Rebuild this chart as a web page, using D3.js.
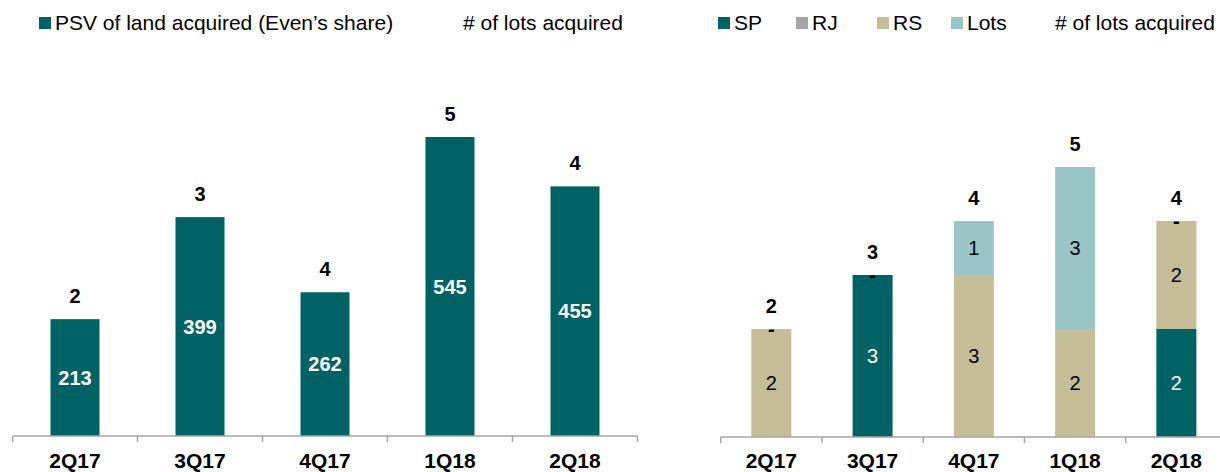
<!DOCTYPE html>
<html>
<head>
<meta charset="utf-8">
<script src="https://cdn.jsdelivr.net/npm/d3@7"></script>
<style>
  body { margin: 0; background: #fff; }
  svg { display: block; font-family: "Liberation Sans", Arial, sans-serif; }
</style>
</head>
<body>
<svg width="1220" height="472"></svg>
<script>
// data
const quarters = ["2Q17", "3Q17", "4Q17", "1Q18", "2Q18"];
const psv = [213, 399, 262, 545, 455];
const lotsAcquired = [2, 3, 4, 5, 4];
const sp = [0, 3, 0, 0, 2];
const rj = [0, 0, 0, 0, 0];
const rs = [2, 0, 3, 2, 2];
const lots = [0, 0, 1, 3, 0];

const teal = "#006264", grey = "#a6a6a6", sand = "#c4bd97", light = "#99c5c6";
const axisColor = "#a6a6a6";

let svg = d3.select("svg");

// ---------- left chart ----------
let xL = d3.scaleBand().domain(quarters).range([12.5, 637.5]);
let yL = d3.scaleLinear().domain([0, 600]).range([436, 436 - 600 * 0.5486]);
let bwL = 49;

let left = svg.append("g");

left.selectAll("rect")
	.data(quarters)
	.enter().append("rect")
	.attr("x", d => xL(d) + xL.bandwidth() / 2 - bwL / 2)
	.attr("width", bwL)
	.attr("y", (d, i) => yL(psv[i]))
	.attr("height", (d, i) => yL(0) - yL(psv[i]))
	.attr("fill", teal);

left.selectAll("text.val")
	.data(quarters)
	.enter().append("text")
	.attr("class", "val")
	.attr("x", d => xL(d) + xL.bandwidth() / 2)
	.attr("y", (d, i) => (yL(psv[i]) + yL(0)) / 2 + 7)
	.attr("text-anchor", "middle")
	.attr("fill", "#fff")
	.style("font-weight", "bold")
	.style("font-size", "20px")
	.text((d, i) => psv[i]);

left.selectAll("text.tot")
	.data(quarters)
	.enter().append("text")
	.attr("class", "tot")
	.attr("x", d => xL(d) + xL.bandwidth() / 2)
	.attr("y", (d, i) => yL(psv[i]) - 16)
	.attr("text-anchor", "middle")
	.attr("fill", "#000")
	.style("font-weight", "bold")
	.style("font-size", "20px")
	.text((d, i) => lotsAcquired[i]);

function drawAxis(g, x, y0) {
	let r = x.range();
	g.append("line")
		.attr("x1", r[0]).attr("x2", r[1])
		.attr("y1", y0).attr("y2", y0)
		.attr("stroke", axisColor).attr("stroke-width", 1.5);
	let ticks = quarters.map(d => x(d)).concat([r[1]]);
	g.selectAll("line.tick")
		.data(ticks)
		.enter().append("line")
		.attr("class", "tick")
		.attr("x1", d => d).attr("x2", d => d)
		.attr("y1", y0).attr("y2", y0 + 6)
		.attr("stroke", axisColor).attr("stroke-width", 1.5);
	g.selectAll("text.cat")
		.data(quarters)
		.enter().append("text")
		.attr("class", "cat")
		.attr("x", d => x(d) + x.bandwidth() / 2)
		.attr("y", 468)
		.attr("text-anchor", "middle")
		.style("font-weight", "bold")
		.style("font-size", "21px")
		.text(d => d);
}
drawAxis(left, xL, 436);

// left legend
left.append("rect").attr("x", 39).attr("y", 17).attr("width", 12).attr("height", 12).attr("fill", teal);
left.append("text").attr("x", 55).attr("y", 30).style("font-size", "21px").text("PSV of land acquired (Even\u2019s share)");
left.append("text").attr("x", 463).attr("y", 30).style("font-size", "21px").text("# of lots acquired");

// ---------- right chart ----------
let xR = d3.scaleBand().domain(quarters).range([720.7, 1227]);
let yR = d3.scaleLinear().domain([0, 6]).range([437, 437 - 6 * 54]);
let bwR = 40;

let keys = ["SP", "RJ", "RS", "Lots"];
let colors = { SP: teal, RJ: grey, RS: sand, Lots: light };
let labelColors = { SP: "#fff", RJ: "#000", RS: "#000", Lots: "#000" };
let table = quarters.map((q, i) => ({ q: q, SP: sp[i], RJ: rj[i], RS: rs[i], Lots: lots[i] }));
let stacked = d3.stack().keys(keys)(table);

let right = svg.append("g");

let layers = right.selectAll("g.layer")
	.data(stacked)
	.enter().append("g")
	.attr("class", "layer");

layers.selectAll("rect")
	.data(s => s.filter(d => d[1] > d[0]))
	.enter().append("rect")
	.attr("x", d => xR(d.data.q) + xR.bandwidth() / 2 - bwR / 2)
	.attr("width", bwR)
	.attr("y", d => yR(d[1]))
	.attr("height", d => yR(d[0]) - yR(d[1]))
	.attr("fill", function () { return colors[d3.select(this.parentNode).datum().key]; });

layers.each(function (s) {
	let key = s.key;
	let g = d3.select(this);
	g.selectAll("text")
		.data(s.filter(d => d[1] > d[0] || key === "Lots"))
		.enter().append("text")
		.attr("x", d => xR(d.data.q) + xR.bandwidth() / 2)
		.attr("y", d => d[1] > d[0] ? (yR(d[0]) + yR(d[1])) / 2 + 7 : yR(d[1]) + 7)
		.attr("text-anchor", "middle")
		.attr("fill", labelColors[key])
		.style("font-size", "20px")
		.style("font-weight", d => d[1] > d[0] ? "normal" : "bold")
		.text(d => d[1] > d[0] ? d[1] - d[0] : "-");
});

right.selectAll("text.tot")
	.data(quarters)
	.enter().append("text")
	.attr("class", "tot")
	.attr("x", d => xR(d) + xR.bandwidth() / 2)
	.attr("y", (d, i) => yR(sp[i] + rj[i] + rs[i] + lots[i]) - 16)
	.attr("text-anchor", "middle")
	.style("font-weight", "bold")
	.style("font-size", "20px")
	.text((d, i) => lotsAcquired[i]);

drawAxis(right, xR, 437);

// right legend
let legX = { SP: 718, RJ: 796, RS: 877, Lots: 951 };
keys.forEach(k => {
	right.append("rect").attr("x", legX[k]).attr("y", 17).attr("width", 12).attr("height", 12).attr("fill", colors[k]);
	right.append("text").attr("x", legX[k] + 16).attr("y", 30).style("font-size", "21px").text(k);
});
right.append("text").attr("x", 1055).attr("y", 30).style("font-size", "21px").text("# of lots acquired");
</script>
</body>
</html>
